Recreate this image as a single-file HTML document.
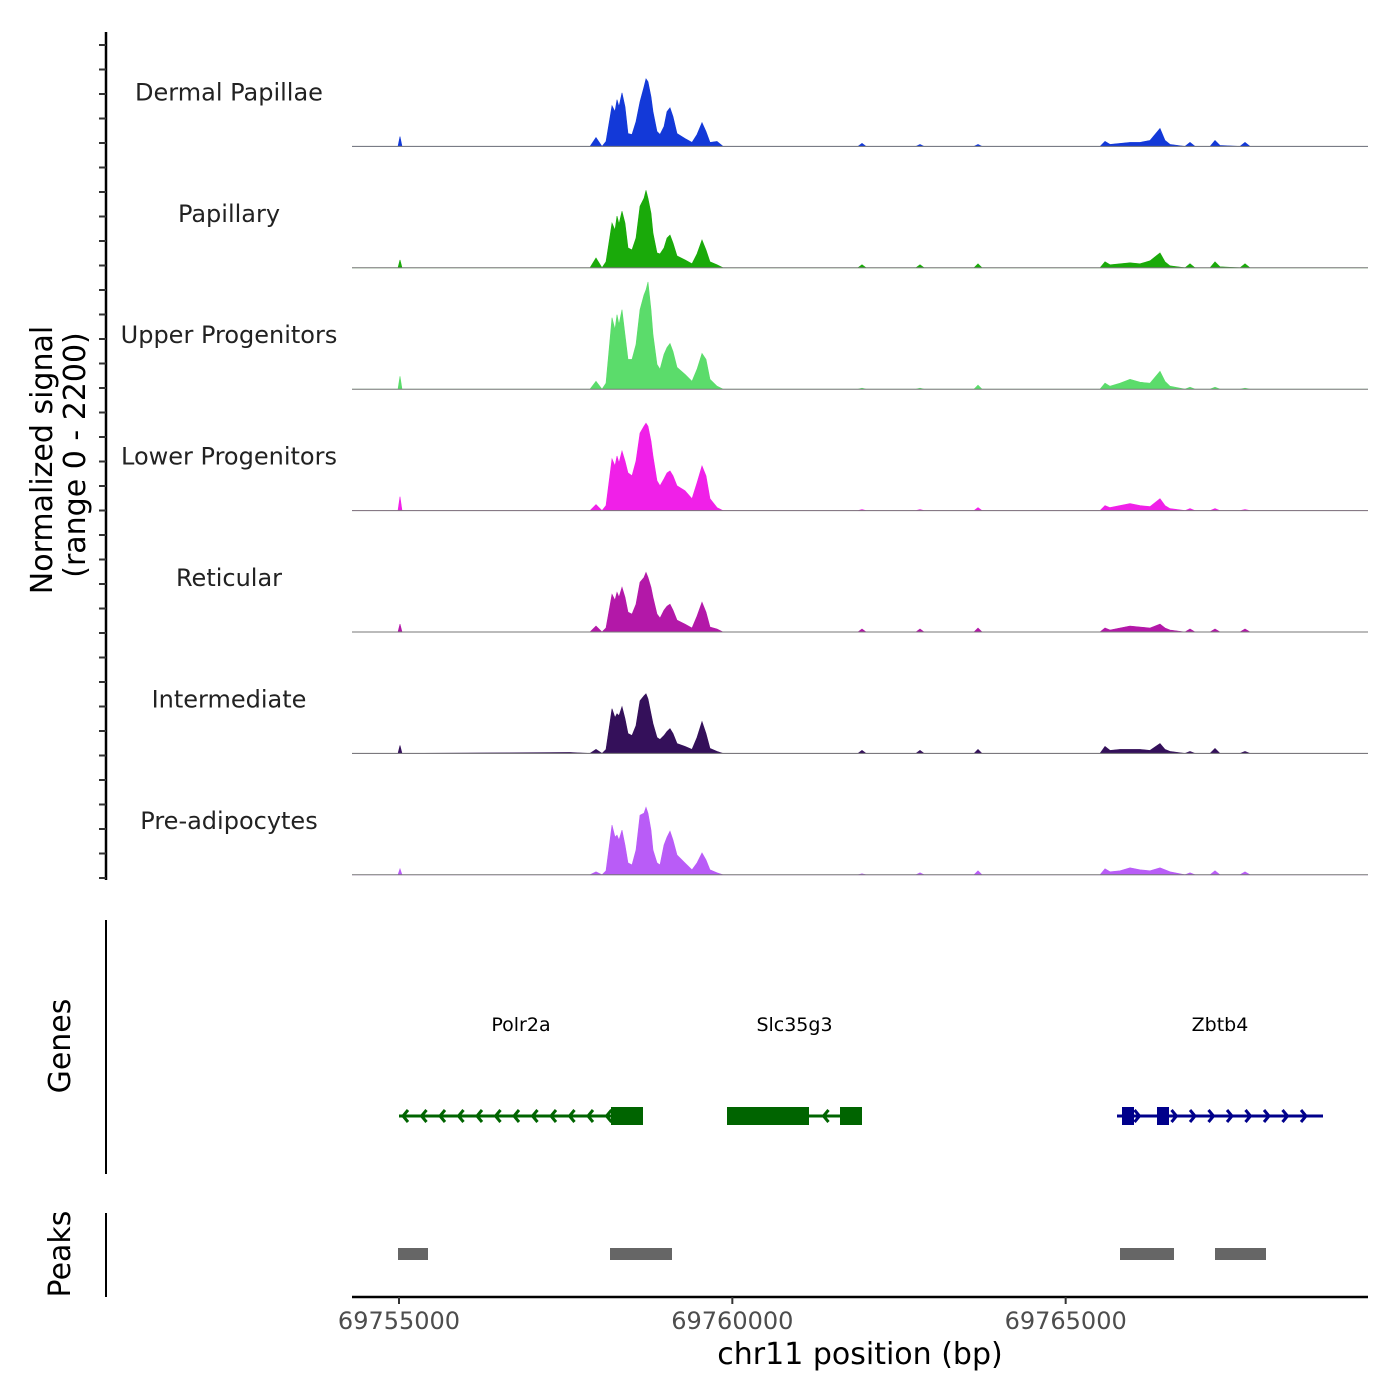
<!DOCTYPE html>
<html><head><meta charset="utf-8"><style>
html,body{margin:0;padding:0;background:#fff;}
svg{display:block;font-family:"DejaVu Sans","Liberation Sans",sans-serif;}
</style></head><body>
<svg id="chart" width="1400" height="1400" viewBox="0 0 1400 1400" xmlns="http://www.w3.org/2000/svg">
<g id="left-axis"></g>
<text transform="translate(52,460) rotate(-90)" text-anchor="middle" font-size="30" fill="#000">Normalized signal</text>
<text transform="translate(85,455) rotate(-90)" text-anchor="middle" font-size="30" fill="#000">(range 0 - 2200)</text>
<g id="tracks"></g>
<line x1="106" y1="920" x2="106" y2="1174" stroke="#000" stroke-width="2"/>
<text transform="translate(70,1046) rotate(-90)" text-anchor="middle" font-size="30" fill="#000">Genes</text>
<g id="genes"></g>
<line x1="106" y1="1213" x2="106" y2="1297" stroke="#000" stroke-width="2"/>
<text transform="translate(70,1254) rotate(-90)" text-anchor="middle" font-size="30" fill="#000">Peaks</text>
<g id="peaks"></g>
<g id="xaxis"></g>
<text x="860" y="1364" text-anchor="middle" font-size="30" fill="#000">chr11 position (bp)</text>
</svg>
<script>
const positions = [69754985,69755015,69755045,69757565,69757865,69757955,69758045,69758105,69758195,69758240,69758270,69758300,69758345,69758390,69758435,69758495,69758555,69758615,69758675,69758705,69758735,69758780,69758810,69758870,69758915,69758975,69759020,69759065,69759110,69759170,69759290,69759395,69759470,69759545,69759605,69759665,69759770,69759860,69761885,69761945,69762005,69762755,69762815,69762875,69763625,69763685,69763745,69765515,69765590,69765665,69765815,69765965,69766115,69766265,69766415,69766490,69766565,69766790,69766865,69766940,69767165,69767240,69767315,69767615,69767690,69767765];
const trackNames = ["Dermal Papillae","Papillary","Upper Progenitors","Lower Progenitors","Reticular","Intermediate","Pre-adipocytes"];
const trackColors = ["#1339d8","#1aaa0a","#5bdc6b","#f020e8","#b318a8","#34105a","#b95cf7"];
const dermalPapillae = [0,180,0,0,0,162,0,90,738,630,846,720,972,720,234,216,450,810,1080,1224,1170,900,630,270,216,360,630,702,540,234,144,72,216,432,270,72,90,0,0,54,0,0,36,0,0,36,0,0,90,36,54,72,72,108,324,108,36,0,72,0,0,108,18,0,72,0];
const papillary = [0,144,0,0,0,180,0,108,810,684,936,792,1026,810,360,324,540,1116,1260,1404,1260,990,630,270,252,360,540,594,450,216,144,72,252,504,324,108,54,0,0,54,0,0,54,0,0,72,0,0,108,54,72,90,72,126,270,108,36,0,72,0,0,108,18,0,72,0];
const upperProgenitors = [0,234,0,0,0,144,0,108,1296,1080,1350,1170,1440,990,540,540,810,1440,1710,1800,1944,1440,990,450,360,630,756,828,684,396,270,144,360,648,540,180,54,0,0,18,0,0,18,0,0,72,0,0,108,54,108,180,126,108,324,144,54,0,36,0,0,36,0,0,18,0];
const lowerProgenitors = [0,252,0,0,0,108,0,90,936,810,990,864,1080,900,684,630,900,1404,1530,1584,1530,1260,990,540,450,576,684,720,630,450,360,216,504,810,630,216,54,0,0,18,0,0,18,0,0,54,0,0,90,54,90,126,90,72,216,90,36,0,36,0,0,36,0,0,18,0];
const reticular = [0,144,0,0,0,108,0,72,684,576,720,630,810,630,360,324,504,900,990,1080,990,810,630,324,252,396,468,504,396,216,144,72,288,540,360,90,54,0,0,54,0,0,54,0,0,72,0,0,72,36,72,108,90,72,144,72,36,0,54,0,0,54,0,0,54,0];
const intermediate = [0,144,0,18,0,72,0,72,810,648,720,684,846,630,360,324,504,954,1044,1080,990,720,540,288,252,324,396,450,360,180,126,72,288,576,360,90,36,0,0,54,0,0,54,0,0,72,0,0,126,54,72,72,72,54,180,72,36,0,36,0,0,90,0,0,36,0];
const preAdipocytes = [0,108,0,0,0,54,0,72,900,684,720,630,810,540,216,180,450,1080,1116,1224,1116,810,450,216,180,540,684,792,630,360,216,90,216,396,270,90,36,0,0,18,0,0,36,0,0,72,0,0,108,54,72,126,90,72,126,90,54,0,36,0,0,72,0,0,54,0];
const trackValues = [dermalPapillae,papillary,upperProgenitors,lowerProgenitors,reticular,intermediate,preAdipocytes];
const xTicks = [69755000,69760000,69765000];
const xTickLabels = ["69755000","69760000","69765000"];
const geneNames = ["Polr2a","Slc35g3","Zbtb4"];
const geneStarts = [69755000,69759920,69765770];
const geneEnds = [69758660,69761945,69768860];
const geneStrands = [-1,-1,1];
const geneColors = ["#006400","#006400","#00008b"];
const exonStarts = [[69758180],[69759920,69761615],[69765845,69766370]];
const exonEnds = [[69758660],[69761150,69761945],[69766025,69766550]];
const peakStarts = [69754985,69758165,69765815,69767240];
const peakEnds = [69755435,69759095,69766625,69768005];

const NS="http://www.w3.org/2000/svg";
const X0=352,X1=1368,D0=69754295,D1=69769535;
function xs(bp){return X0+(bp-D0)/(D1-D0)*(X1-X0);}
const TRACK_TOP=25,TRACK_H=121.4,YMAX=2200;
function ys(v,i){const base=TRACK_TOP+TRACK_H*(i+1);return base-v/YMAX*TRACK_H;}
function mk(tag,attrs,parent){const e=document.createElementNS(NS,tag);for(const k in attrs)e.setAttribute(k,attrs[k]);parent.appendChild(e);return e;}

const la=document.getElementById('left-axis');
let ln=mk('line',{x1:106,y1:32,x2:106,y2:880,stroke:'#000','stroke-width':2.5},la);


for(let y=45;y<=878;y+=24.5){
  const t=mk('line',{x1:99,y1:y,x2:106,y2:y,stroke:'#333','stroke-width':2},la);
  
  
}

const tg=document.getElementById('tracks');
trackNames.forEach((name,i)=>{
  const vals=trackValues[i];
  const base=ys(0,i);
  const g=mk('g',{},tg);
  
  
  let d='M'+X0+','+base;
  positions.forEach((p,j)=>{const v=vals[j]||0;d+=' L'+xs(p).toFixed(1)+','+ys(v,i).toFixed(1);});
  d+=' L'+X1+','+base+' Z';
  const a=mk('path',{d:d,fill:trackColors[i],stroke:trackColors[i],'stroke-width':0.6},g);
  
  
  const bl=mk('line',{x1:X0,y1:base,x2:X1,y2:base,stroke:'#777','stroke-width':1},g);
  
  
  const tx=mk('text',{x:229,y:base-46,'text-anchor':'middle','font-size':24,fill:'#222'},g);
  tx.textContent=name;
  
  
});

const gg=document.getElementById('genes');
const GY=1116;
geneNames.forEach((n,i)=>{
  const g=mk('g',{},gg);
  
  
  const c=geneColors[i];
  const x1=xs(geneStarts[i]),x2=xs(geneEnds[i]);
  mk('line',{x1:x1,y1:GY,x2:x2,y2:GY,stroke:c,'stroke-width':3},g);
  const s=geneStrands[i];
  for(let x=x1+4;x<=x2-2;x+=18.5){
    let inExon=false;
    exonStarts[i].forEach((es,k)=>{if(x>xs(es)-4&&x<xs(exonEnds[i][k])+4)inExon=true;});
    if(inExon)continue;
    const dx=5*s;
    mk('polyline',{points:(x-dx)+','+(GY-6)+' '+x+','+GY+' '+(x-dx)+','+(GY+6),fill:'none',stroke:c,'stroke-width':3},g);
  }
  exonStarts[i].forEach((es,k)=>{
    const r=mk('rect',{x:xs(es),y:GY-9,width:xs(exonEnds[i][k])-xs(es),height:18,fill:c},g);
    
    
  });
  const t=mk('text',{x:(x1+x2)/2,y:1031,'text-anchor':'middle','font-size':19,fill:'#000'},g);
  t.textContent=n;
  
  
});

const pg=document.getElementById('peaks');
peakStarts.forEach((ps,i)=>{
  const r=mk('rect',{x:xs(ps),y:1248,width:xs(peakEnds[i])-xs(ps),height:12,fill:'#666'},pg);
  
  
});

const xg=document.getElementById('xaxis');
const al=mk('line',{x1:X0,y1:1297,x2:X1,y2:1297,stroke:'#000','stroke-width':2.5},xg);


xTicks.forEach((t,i)=>{
  const x=xs(t);
  const tk=mk('line',{x1:x,y1:1297,x2:x,y2:1304,stroke:'#333','stroke-width':2},xg);
  
  
  const lb=mk('text',{x:x,y:1329,'text-anchor':'middle','font-size':24,fill:'#4d4d4d'},xg);
  lb.textContent=xTickLabels[i];
  
  
});
</script>
</body></html>
